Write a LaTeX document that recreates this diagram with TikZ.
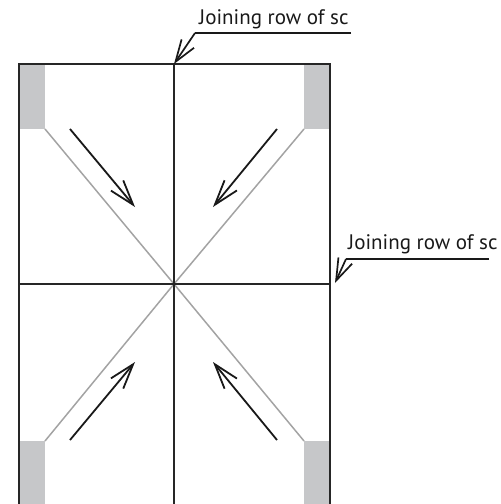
\documentclass[tikz,border=0pt]{standalone}
\usepackage{fontspec}
\setmainfont{PT Sans}
\usetikzlibrary{arrows.meta}
\definecolor{padgray}{HTML}{C6C7C9}
\definecolor{diaggray}{HTML}{A3A3A3}
\tikzset{
  frame/.style={line width=2bp, draw=black!85},
  diag/.style={line width=1.5bp, draw=diaggray},
  pad/.style={fill=padgray, draw=none},
  flow/.style={line width=1.8bp, draw=black!90, -{Straight Barb[length=25bp, width=16bp, line width=1.8bp]}},
  leader/.style={line width=1.7bp, draw=black!90, -{Straight Barb[length=22bp, width=15bp, line width=1.7bp]}},
  lbl/.style={inner sep=0pt, anchor=base west, font=\fontsize{21bp}{25bp}\selectfont, text=black!90},
}
\begin{document}
\begin{tikzpicture}[x=1bp, y=-1bp]
\useasboundingbox (0,0) rectangle (501,504);
% gray pads
\fill[pad] (19,64) rectangle (45,129);
\fill[pad] (304,64) rectangle (330,129);
\fill[pad] (19,441) rectangle (45,504);
\fill[pad] (304,441) rectangle (330,504);
% key points
\coordinate (c) at (174,284);
\coordinate (tl) at (45,129);
\coordinate (tr) at (304,129);
\coordinate (bl) at (45,441);
\coordinate (br) at (304,441);
% diagonals
\draw[diag] (tl) -- (c) -- (br);
\draw[diag] (tr) -- (c) -- (bl);
% frame
\coordinate (topL) at (19,64);
\coordinate (topM) at (174,64);
\coordinate (topR) at (330,64);
\coordinate (midL) at (19,284);
\coordinate (midR) at (330,284);
\draw[frame] (19,504) -- (topL) -- (topR) -- (330,504);
\draw[frame] (topM) -- (174,504);
\draw[frame] (midL) -- (midR);
% flow arrows
\coordinate (a1s) at (70,129);  \coordinate (a1e) at (135,207);
\coordinate (a2s) at (277,129); \coordinate (a2e) at (213,207);
\coordinate (a3s) at (70,440);  \coordinate (a3e) at (135,362);
\coordinate (a4s) at (277,440); \coordinate (a4e) at (213,362);
\draw[flow] (a1s) -- (a1e);
\draw[flow] (a2s) -- (a2e);
\draw[flow] (a3s) -- (a3e);
\draw[flow] (a4s) -- (a4e);
% labels
\node[lbl] (ltop) at (199,25) {Joining row of sc};
\node[lbl] (lright) at (348,249) {Joining row of sc};
\coordinate (k1) at (195,33);
\coordinate (k1e) at (351,33);
\coordinate (k2) at (346,259);
\coordinate (k2e) at (489,259);
\coordinate (tip1) at (174,64);
\coordinate (tip2) at (335,283);
\draw[line width=1.7bp, black!90] (k1e) -- (k1);
\draw[leader] (k1) -- (tip1);
\draw[line width=1.7bp, black!90] (k2e) -- (k2);
\draw[leader] (k2) -- (tip2);
\end{tikzpicture}
\end{document}
